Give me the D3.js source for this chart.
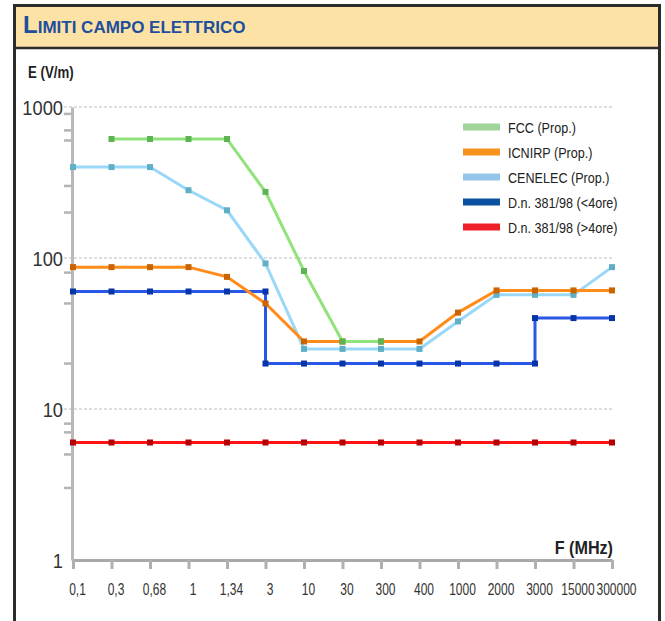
<!DOCTYPE html>
<html>
<head>
<meta charset="utf-8">
<script src="https://cdn.jsdelivr.net/npm/d3@7"></script>
<style>
  html, body { margin: 0; padding: 0; background: #fff; }
  svg { display: block; }
  text { font-family: "Liberation Sans", Arial, sans-serif; }
</style>
</head>
<body>
<svg id="chart" width="665" height="621"></svg>
<script>
// Frequency categories (MHz) along the x axis
const categories = ["0,1", "0,3", "0,68", "1", "1,34", "3", "10", "30", "300", "400", "1000", "2000", "3000", "15000", "300000"];

// FCC proposal
const fccFreq   = ["0,3", "0,68", "1", "1,34", "3", "10", "30", "300"];
const fccValues = [614, 614, 614, 614, 274, 82, 28, 28];

// ICNIRP proposal
const icnirpFreq   = categories;
const icnirpValues = [87, 87, 87, 87, 75, 50, 28, 28, 28, 28, 43.5, 61, 61, 61, 61];

// CENELEC proposal
const cenelecFreq   = categories;
const cenelecValues = [400, 400, 400, 281, 207, 92, 25, 25, 25, 25, 38, 57, 57, 57, 87];

// D.n. 381/98, exposure under 4 hours (step changes at 3 and 3000 MHz)
const dnShortFreq   = ["0,1", "0,3", "0,68", "1", "1,34", "3", "3", "10", "30", "300", "400", "1000", "2000", "3000", "3000", "15000", "300000"];
const dnShortValues = [60, 60, 60, 60, 60, 60, 20, 20, 20, 20, 20, 20, 20, 20, 40, 40, 40];

// D.n. 381/98, exposure over 4 hours
const dnLongFreq   = categories;
const dnLongValues = [6, 6, 6, 6, 6, 6, 6, 6, 6, 6, 6, 6, 6, 6, 6];

// Y axis labels, minor ticks and gridlines
const yTickValues  = [1, 10, 100, 1000];
const yMinorTicks  = [900, 700, 600, 300, 200, 80, 50, 20, 8, 7, 5, 3];
const yGridValues  = [10, 100, 1000];

const legendLabels = ["FCC (Prop.)", "ICNIRP (Prop.)", "CENELEC (Prop.)", "D.n. 381/98 (<4ore)", "D.n. 381/98 (>4ore)"];
const legendColors = ["#9fd49b", "#f7921f", "#93c6e9", "#0a52a0", "#ee1f26"];

const series = [
  { freq: dnLongFreq,  values: dnLongValues,  line: "#ff1414", mark: "#b30000" },
  { freq: dnShortFreq, values: dnShortValues, line: "#2a58e6", mark: "#0636a6" },
  { freq: cenelecFreq, values: cenelecValues, line: "#9ad8f8", mark: "#5fb0c6" },
  { freq: icnirpFreq,  values: icnirpValues,  line: "#ff8c1a", mark: "#c96400" },
  { freq: fccFreq,     values: fccValues,     line: "#92e27c", mark: "#5cb452" }
];

const svg = d3.select("#chart");
const H = 621;

// Frame and header band
svg.append("rect").attr("x", 15).attr("y", 6).attr("width", 644).attr("height", 42).attr("fill", "#fde2a6");
svg.append("path")
  .attr("d", `M14.5,${H} V5.5 H659.5 V${H}`)
  .attr("fill", "none").attr("stroke", "#2b2b2b").attr("stroke-width", 3);
svg.append("line").attr("x1", 14).attr("x2", 660).attr("y1", 48).attr("y2", 48)
  .attr("stroke", "#2b2b2b").attr("stroke-width", 2.5);

// Title in small capitals
const title = svg.append("text").attr("x", 23).attr("y", 33)
  .attr("fill", "#1d4f9d").attr("font-weight", "bold");
title.append("tspan").attr("font-size", 24).text("L");
title.append("tspan").attr("font-size", 17).text("IMITI CAMPO ELETTRICO");

// Scales
const x = d3.scalePoint().domain(categories).range([73, 612]);
const y = d3.scaleLog().domain([1, 1000]).range([560, 107]);

// Gridlines
svg.append("g").selectAll("line").data(yGridValues).join("line")
  .attr("x1", 64).attr("x2", 612)
  .attr("y1", d => y(d)).attr("y2", d => y(d))
  .attr("stroke", "#dedede").attr("stroke-width", 2).attr("stroke-dasharray", "3,2");

// Minor ticks on the value axis
svg.append("g").selectAll("line").data(yMinorTicks).join("line")
  .attr("x1", 64).attr("x2", 72)
  .attr("y1", d => y(d)).attr("y2", d => y(d))
  .attr("stroke", "#b4b4b4").attr("stroke-width", 2.5);

// Y axis (condensed labels)
const yAxis = svg.append("g").attr("transform", "translate(72,0)")
  .call(d3.axisLeft(y).tickValues(yTickValues).tickFormat(d3.format("d")).tickSize(0).tickPadding(0));
yAxis.select(".domain").attr("stroke", "#b8b8b8").attr("stroke-width", 3);
yAxis.selectAll(".tick text")
  .attr("font-size", 21).attr("fill", "#333")
  .attr("x", 0).attr("dy", null).attr("y", 7.5)
  .attr("transform", "translate(-9,0) scale(0.87,1)");

// X axis (condensed labels)
const xAxis = svg.append("g").attr("transform", "translate(0,560)")
  .call(d3.axisBottom(x).tickSizeInner(9).tickSizeOuter(0).tickPadding(0));
xAxis.select(".domain").attr("stroke", "#a9a9a9").attr("stroke-width", 3);
xAxis.selectAll(".tick line").attr("stroke", "#b0b0b0").attr("stroke-width", 3);
xAxis.selectAll(".tick text")
  .attr("font-size", 16).attr("fill", "#333")
  .attr("text-anchor", "middle").attr("x", 0).attr("y", 0).attr("dy", null)
  .attr("transform", "translate(4,35) scale(0.75,1)");

// Axis titles
svg.append("text").attr("transform", "translate(28,78) scale(0.78,1)")
  .attr("font-weight", "bold").attr("font-size", 17).attr("fill", "#222").text("E (V/m)");
svg.append("text").attr("transform", "translate(613,554) scale(0.85,1)").attr("text-anchor", "end")
  .attr("font-weight", "bold").attr("font-size", 19).attr("fill", "#222").text("F (MHz)");

// Series lines and markers
const line = d3.line().x(d => x(d.f)).y(d => y(d.v));
series.forEach(s => {
  const pts = s.freq.map((f, i) => ({ f, v: s.values[i] }));
  svg.append("path").datum(pts).attr("d", line)
    .attr("fill", "none").attr("stroke", s.line).attr("stroke-width", 3);
  svg.append("g").selectAll("rect").data(pts).join("rect")
    .attr("x", d => x(d.f) - 3).attr("y", d => y(d.v) - 3)
    .attr("width", 6).attr("height", 6).attr("fill", s.mark);
});

// Legend
const legend = svg.append("g").attr("transform", "translate(463,127)");
legendLabels.forEach((label, i) => {
  const row = legend.append("g").attr("transform", `translate(0,${i * 25})`);
  row.append("rect").attr("x", 0).attr("y", -3.5).attr("width", 37).attr("height", 7).attr("fill", legendColors[i]);
  row.append("text").attr("transform", "translate(45,5.5) scale(0.84,1)")
    .attr("font-size", 15).attr("fill", "#222").text(label);
});
</script>
</body>
</html>
